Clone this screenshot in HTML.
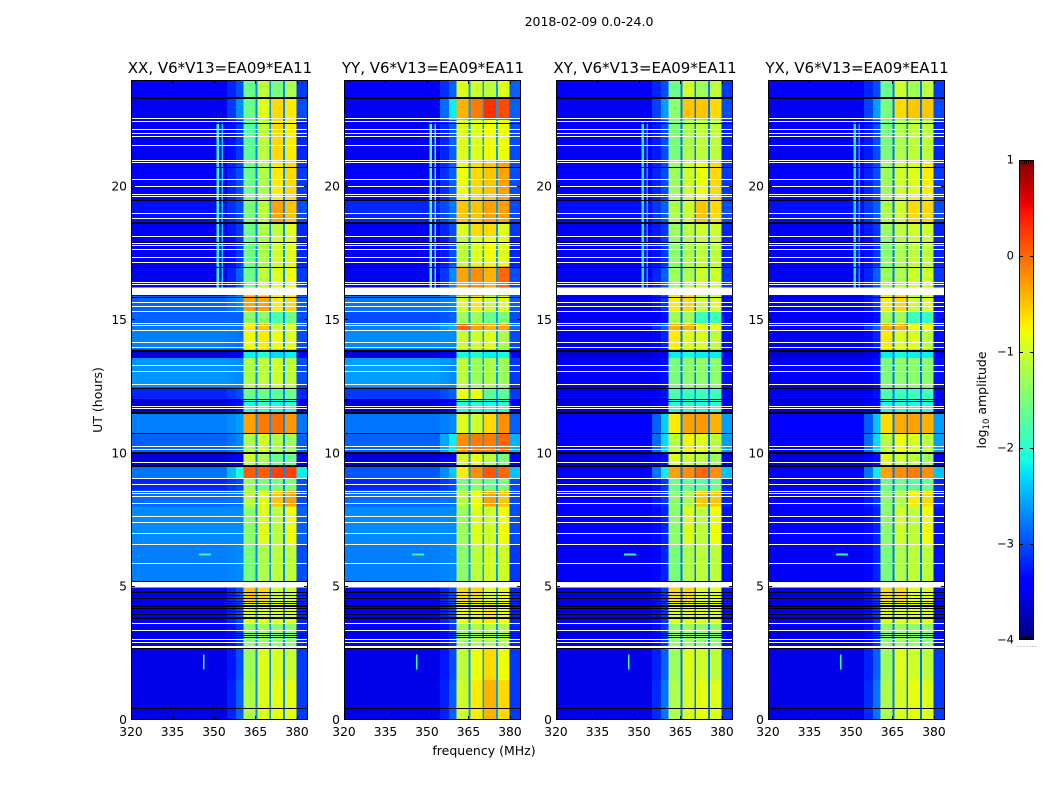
<!DOCTYPE html>
<html lang="en">
<head>
<meta charset="utf-8">
<title>2018-02-09 waterfall amplitude</title>
<style>
html,body{margin:0;padding:0;background:#fff;}
svg{display:block;}
text{font-family:"DejaVu Sans","Liberation Sans",sans-serif;fill:#000;}
</style>
</head>
<body>
<svg id="figure" width="1050" height="800" viewBox="0 0 1050 800" xmlns="http://www.w3.org/2000/svg">
  <rect x="0" y="0" width="1050" height="800" fill="#fff"/>
  <text x="589" y="26" font-size="12.5" text-anchor="middle">2018-02-09 0.0-24.0</text>
  <text transform="translate(102,400) rotate(-90)" font-size="12.5" text-anchor="middle">UT (hours)</text>
  <text x="484" y="755" font-size="12.5" text-anchor="middle">frequency (MHz)</text>
  <text transform="translate(986,400) rotate(-90)" font-size="12.5" text-anchor="middle">log<tspan font-size="8.5" dy="3">10</tspan><tspan dy="-3"> amplitude</tspan></text>
  <g id="panels"></g>
  <g id="colorbar"></g>
</svg>
<script>
// ---- data ----
const panelTitles = ['XX, V6*V13=EA09*EA11', 'YY, V6*V13=EA09*EA11', 'XY, V6*V13=EA09*EA11', 'YX, V6*V13=EA09*EA11'];
const panelNames = ['xx', 'yy', 'xy', 'yx'];
const xTicks = [320, 335, 350, 365, 380];
const yTicks = [0, 5, 10, 15, 20];
const colorbarTicks = [1, 0, -1, -2, -3, -4];

// UT hour boundaries of the rows, top to bottom
const timeEdges = [24, 23.37, 22.5, 21, 19.5, 18.68, 18.15, 17, 15.9, 15.3, 14.88, 14.63, 13.9, 13.57, 12.46, 12, 11.54, 10.75, 10.04, 9.54, 9.06, 8.6, 8, 6.6, 5, 4.4, 3.6, 2.7, 1.5, 0];
// MHz boundaries of the channel groups
const channelEdges = [320, 354.7, 358, 360.6, 365.1, 365.7, 370, 370.6, 375, 375.7, 379.9, 384];

// log10 amplitude per row: background, roll-off, band 1..4, right side
const xxRows = [
[-3.4,-3.0,-1.6,-1.1,-1.5,-1.2,-3.1],[-3.5,-2.7,-1.6,-0.9,-0.6,-0.7,-3.0],[-3.5,-3.1,-1.7,-1.1,-0.6,-0.7,-3.2],
[-3.4,-3.0,-1.6,-1.2,-0.7,-0.6,-3.1],[-3.3,-3.0,-1.5,-1.1,-0.3,-0.5,-3.0],[-3.4,-3.1,-1.6,-1.2,-1.1,-0.9,-3.2],
[-3.5,-3.1,-1.6,-1.2,-1.0,-0.9,-3.2],[-3.5,-2.9,-1.6,-1.1,-0.9,-0.8,-3.1],[-2.9,-2.7,-0.3,-0.3,-0.7,-0.6,-2.9],
[-2.9,-2.9,-1.4,-1.4,-1.8,-1.6,-3.0],[-2.8,-2.8,-0.7,-0.5,-1.0,-0.9,-2.9],[-2.75,-2.8,-0.8,-0.7,-0.8,-0.9,-3.0],
[-3.6,-3.4,-2.2,-2.0,-2.3,-2.2,-3.5],[-2.65,-2.7,-1.2,-1.1,-1.0,-1.1,-3.0],[-3.2,-3.0,-1.6,-1.6,-1.7,-1.6,-3.2],
[-3.6,-3.3,-2.1,-1.9,-2.1,-2.0,-3.4],[-2.75,-2.6,-0.3,-0.1,-0.05,-0.25,-2.8],[-2.9,-2.7,-1.2,-1.0,-1.2,-1.3,-2.9],
[-3.6,-3.4,-1.0,-1.2,-1.6,-1.6,-3.4],[-2.8,-2.1,0.05,0.05,0.2,0.2,-2.2],[-3.2,-3.0,-1.3,-1.5,-1.5,-1.5,-3.0],
[-2.85,-2.8,-1.1,-0.9,-0.5,-0.3,-3.0],[-2.7,-2.7,-1.4,-0.9,-1.1,-0.8,-2.9],[-2.75,-2.7,-1.5,-1.2,-1.1,-1.1,-3.0],
[-3.4,-3.0,-0.5,-0.6,-1.0,-1.0,-3.2],[-3.4,-3.0,-0.9,-0.9,-0.9,-0.9,-3.2],[-3.5,-3.1,-1.4,-1.3,-1.4,-1.4,-3.2],
[-3.55,-3.0,-1.3,-0.9,-0.95,-1.05,-3.1],[-3.55,-2.9,-1.2,-0.9,-0.85,-0.85,-3.1]
];
const yyRows = [
[-3.4,-2.9,-0.9,-1.0,-1.1,-0.9,-2.9],[-3.5,-2.2,-0.4,-0.1,0.3,0.15,-2.9],[-3.5,-2.9,-0.9,-0.9,-0.8,-0.8,-3.0],
[-3.4,-2.9,-0.8,-0.6,-0.5,-0.3,-3.0],[-3.2,-2.8,-0.5,-0.5,-0.3,-0.3,-3.0],[-3.4,-3.0,-0.9,-0.6,-0.6,-0.9,-3.1],
[-3.5,-3.0,-1.1,-0.9,-0.8,-0.9,-3.2],[-3.5,-2.7,-0.3,-0.2,-0.4,0.0,-3.0],[-2.8,-2.7,-0.9,-0.7,-1.0,-0.9,-2.9],
[-3.0,-2.9,-1.3,-1.3,-1.6,-1.5,-3.0],[-2.75,-2.5,0.0,-0.3,-0.4,-0.3,-2.8],[-2.7,-2.7,-1.0,-1.0,-0.9,-1.2,-3.0],
[-3.6,-3.4,-2.1,-2.0,-2.2,-2.1,-3.5],[-2.6,-2.7,-1.1,-1.3,-1.2,-1.3,-3.1],[-3.1,-2.9,-0.8,-0.8,-1.7,-1.7,-3.1],
[-3.6,-3.4,-2.0,-2.0,-2.1,-2.0,-3.4],[-2.8,-2.7,-0.9,-1.0,-0.6,-0.2,-2.9],[-2.9,-2.2,-0.2,-0.1,-0.1,0.0,-2.5],
[-3.6,-3.4,-0.9,-0.8,-1.1,-1.5,-3.4],[-2.95,-2.4,-0.7,-0.2,0.1,0.0,-2.4],[-3.2,-3.0,-1.5,-1.4,-1.6,-1.5,-3.0],
[-2.85,-2.8,-1.1,-0.8,-0.3,-0.5,-3.0],[-2.7,-2.7,-1.3,-0.9,-1.0,-0.8,-3.0],[-2.75,-2.7,-1.4,-1.1,-1.0,-1.0,-3.1],
[-3.4,-3.0,-0.6,-0.6,-0.9,-0.8,-3.2],[-3.4,-3.0,-0.8,-0.8,-0.7,-0.8,-3.2],[-3.5,-3.1,-1.3,-1.2,-1.2,-1.2,-3.2],
[-3.55,-3.0,-1.1,-0.8,-0.6,-0.8,-3.1],[-3.55,-2.9,-1.0,-0.7,-0.4,-0.6,-3.1]
];
const xyRows = [
[-3.4,-3.0,-1.6,-1.0,-1.3,-1.1,-3.1],[-3.5,-2.6,-1.4,-0.5,-0.5,-0.6,-3.0],[-3.5,-3.0,-1.5,-1.2,-1.1,-1.1,-3.2],
[-3.4,-3.0,-1.3,-1.0,-0.8,-0.6,-3.1],[-3.3,-2.9,-1.2,-1.0,-0.5,-0.6,-3.0],[-3.4,-3.1,-1.3,-1.1,-1.0,-1.0,-3.2],
[-3.5,-3.1,-1.4,-1.2,-1.1,-1.1,-3.2],[-3.5,-2.9,-1.3,-1.2,-1.0,-1.0,-3.1],[-3.5,-3.1,-0.7,-0.6,-1.0,-0.9,-3.3],
[-3.5,-3.3,-1.3,-1.3,-1.9,-1.9,-3.3],[-3.4,-2.9,-0.4,-0.4,-0.8,-0.8,-3.2],[-3.5,-3.2,-0.7,-0.9,-0.9,-1.1,-3.3],
[-3.65,-3.5,-2.2,-2.1,-2.2,-2.2,-3.5],[-3.5,-3.3,-1.5,-1.4,-1.4,-1.4,-3.3],[-3.5,-3.3,-1.8,-1.9,-1.9,-1.9,-3.4],
[-3.6,-3.4,-2.1,-2.0,-2.1,-2.0,-3.5],[-3.45,-2.35,-0.7,-0.3,-0.25,-0.4,-2.6],[-3.4,-2.3,-1.1,-0.75,-0.9,-1.1,-2.6],
[-3.6,-3.3,-0.9,-1.0,-1.1,-1.3,-3.4],[-3.4,-2.2,-0.3,-0.2,0.0,-0.2,-2.4],[-3.5,-3.1,-1.6,-1.6,-1.7,-1.6,-3.2],
[-3.4,-3.1,-1.4,-1.2,-0.5,-0.5,-3.2],[-3.45,-3.2,-1.4,-0.9,-1.1,-0.8,-3.3],[-3.5,-3.2,-1.5,-1.2,-1.1,-1.1,-3.3],
[-3.5,-3.1,-0.6,-0.6,-0.9,-0.9,-3.3],[-3.5,-3.1,-0.9,-0.9,-0.9,-0.9,-3.3],[-3.55,-3.1,-1.4,-1.3,-1.4,-1.4,-3.3],
[-3.55,-2.9,-1.3,-0.9,-1.0,-1.1,-3.1],[-3.55,-2.8,-1.2,-0.95,-0.85,-0.9,-3.1]
];
const yxRows = [
[-3.4,-3.0,-1.6,-1.0,-1.3,-1.1,-3.1],[-3.5,-2.6,-1.5,-0.6,-0.5,-0.5,-3.0],[-3.5,-3.0,-1.5,-1.2,-1.1,-1.1,-3.2],
[-3.4,-3.0,-1.3,-1.0,-0.9,-0.7,-3.1],[-3.3,-2.9,-1.2,-1.0,-0.6,-0.6,-3.0],[-3.4,-3.1,-1.3,-1.1,-1.0,-1.0,-3.2],
[-3.5,-3.1,-1.4,-1.2,-1.1,-1.1,-3.2],[-3.5,-2.9,-1.3,-1.2,-1.0,-1.0,-3.1],[-3.5,-3.1,-0.7,-0.6,-1.0,-0.9,-3.3],
[-3.5,-3.3,-1.3,-1.3,-1.9,-1.9,-3.3],[-3.4,-2.9,-0.4,-0.4,-0.8,-0.8,-3.2],[-3.5,-3.2,-0.7,-0.9,-0.9,-1.1,-3.3],
[-3.65,-3.5,-2.2,-2.1,-2.2,-2.2,-3.5],[-3.5,-3.3,-1.5,-1.4,-1.4,-1.4,-3.3],[-3.5,-3.3,-1.8,-1.9,-1.9,-1.9,-3.4],
[-3.6,-3.4,-2.1,-2.0,-2.1,-2.0,-3.5],[-3.45,-2.4,-0.6,-0.35,-0.3,-0.4,-2.6],[-3.4,-2.3,-1.1,-0.8,-0.95,-1.1,-2.6],
[-3.6,-3.3,-0.9,-1.0,-1.1,-1.3,-3.4],[-3.4,-2.2,-0.3,-0.2,-0.1,-0.2,-2.4],[-3.5,-3.1,-1.6,-1.6,-1.7,-1.6,-3.2],
[-3.4,-3.1,-1.4,-1.2,-0.7,-0.6,-3.2],[-3.45,-3.2,-1.4,-1.0,-1.1,-0.8,-3.3],[-3.5,-3.2,-1.5,-1.2,-1.1,-1.1,-3.3],
[-3.5,-3.1,-0.6,-0.6,-0.9,-0.9,-3.3],[-3.5,-3.1,-0.9,-0.9,-0.9,-0.9,-3.3],[-3.55,-3.1,-1.4,-1.3,-1.4,-1.4,-3.3],
[-3.55,-2.9,-1.3,-0.9,-1.0,-1.1,-3.1],[-3.55,-2.8,-1.2,-0.95,-0.85,-0.9,-3.1]
];
const panelRows = [xxRows, yyRows, xyRows, yxRows];
const gapLevels = [-2.7, -2.6, -2.8, -2.8];

// narrow interference: column [startMHz, endMHz, topHour, bottomHour], level per panel
const rfiColumns = [[351, 351.8, 22.4, 16], [352.8, 353.2, 22.4, 16]];
const rfiLevels = [[-2.0, -2.4], [-1.8, -2.0], [-2.2, -2.5], [-2.2, -2.5]];
// short spikes: [startMHz, endMHz, topHour, bottomHour, level]
const spikes = [[346, 346.5, 2.45, 1.9, -1.9], [344.5, 349, 6.24, 6.17, -2.1], [345.6, 346.4, 6.24, 6.17, -0.4]];

// flagged integrations (hours)
const whiteBlocks = [[16.21, 15.93], [5.19, 4.96]];
const whiteLineHours = [22.56,22.47,22.15,22.0,21.9,21.55,21.0,20.94,20.28,20.01,19.73,19.66,19.0,18.81,18.15,17.88,17.8,17.65,17.37,17.19,16.44,16.35,15.66,15.54,15.34,14.88,14.81,14.63,14.16,13.98,13.3,13.09,12.59,11.79,11.69,10.29,10.16,9.66,9.06,8.86,8.59,8.52,8.41,8.13,7.65,7.41,7.0,6.59,5.88,3.65,3.38,3.03,2.91,2.79,2.75];
const blackLineHours = [23.37,23.33,22.4,20.73,19.5,18.68,18.64,17.93,16.98,15.85,13.88,13.84,12.46,12.02,11.98,11.56,11.52,10.75,10.06,10.02,9.56,9.52,5.22,4.81,4.69,4.57,4.47,4.37,4.33,4.29,4.19,4.09,3.97,3.87,3.81,3.25,3.19,3.12,2.71,0.44];

// ---- axes ----
const panelLefts = [131, 344, 556, 768];
const plotWidth = 177, plotTop = 80, plotBottom = 720;
const freqMin = 320, freqMax = 384, hourMax = 24;
const cbLeft = 1019, cbWidth = 15, cbTop = 160, cbBottom = 640, cbMax = 1, cbMin = -4;
const xScale = (left, f) => left + (f - freqMin) / (freqMax - freqMin) * plotWidth;
const yScale = h => plotBottom - h / hourMax * (plotBottom - plotTop);
const cbScale = v => cbTop + (cbMax - v) / (cbMax - cbMin) * (cbBottom - cbTop);

function ramp(t, pts) {
  for (let i = 1; i < pts.length; i++) {
    if (t <= pts[i][0]) {
      const a = pts[i - 1], b = pts[i];
      return a[1] + (b[1] - a[1]) * (t - a[0]) / (b[0] - a[0]);
    }
  }
  return pts[pts.length - 1][1];
}
function jet(v) {
  const t = Math.max(0, Math.min(1, (v - cbMin) / (cbMax - cbMin)));
  const r = ramp(t, [[0, 0], [0.35, 0], [0.66, 1], [0.89, 1], [1, 0.5]]);
  const g = ramp(t, [[0, 0], [0.125, 0], [0.375, 1], [0.64, 1], [0.91, 0], [1, 0]]);
  const b = ramp(t, [[0, 0.5], [0.11, 1], [0.34, 1], [0.65, 0], [1, 0]]);
  return 'rgb(' + Math.round(r * 255) + ',' + Math.round(g * 255) + ',' + Math.round(b * 255) + ')';
}

const NS = 'http://www.w3.org/2000/svg';
function make(parent, tag, attrs) {
  const el = document.createElementNS(NS, tag);
  for (const k in attrs) el.setAttribute(k, attrs[k]);
  parent.appendChild(el);
  return el;
}

function drawPanel(p) {
  const left = panelLefts[p], right = left + plotWidth, rows = panelRows[p];
  const root = document.getElementById('panels');
  const g = make(root, 'g', {});
  
  
  const heat = make(g, 'g', { 'shape-rendering': 'crispEdges' });
  
  

  rows.forEach((row, r) => {
    const bg = row[0], edge = row[1], right0 = row[6], gap = gapLevels[p];
    const levels = [bg, (bg + edge) / 2, edge, row[2], gap, row[3], gap, row[4], gap, row[5], right0];
    levels.forEach((lv, c) => {
      const x0 = xScale(left, channelEdges[c]), x1 = xScale(left, channelEdges[c + 1]);
      const y0 = yScale(timeEdges[r]), y1 = yScale(timeEdges[r + 1]);
      const cell = make(heat, 'rect', { x: x0, y: y0, width: x1 - x0, height: y1 - y0, fill: jet(lv) });
      
      
    });
  });

  rfiColumns.forEach((col, i) => {
    const x0 = xScale(left, col[0]), x1 = xScale(left, col[1]);
    const el = make(heat, 'rect', { x: x0, y: yScale(col[2]), width: Math.max(1, x1 - x0), height: yScale(col[3]) - yScale(col[2]), fill: jet(rfiLevels[p][i]) });
    
    
  });
  spikes.forEach(s => {
    const x0 = xScale(left, s[0]), x1 = xScale(left, s[1]);
    const el = make(heat, 'rect', { x: x0, y: yScale(s[2]), width: Math.max(1, x1 - x0), height: Math.max(1, yScale(s[3]) - yScale(s[2])), fill: jet(s[4]) });
    
    
  });
  whiteBlocks.forEach(b => {
    const el = make(heat, 'rect', { x: left, y: yScale(b[0]), width: plotWidth, height: yScale(b[1]) - yScale(b[0]), fill: '#fff' });
    
    
  });
  whiteLineHours.forEach(h => {
    const el = make(heat, 'rect', { x: left, y: Math.round(yScale(h)), width: plotWidth, height: 1, fill: '#fff' });
    
    
  });
  blackLineHours.forEach(h => {
    const el = make(heat, 'rect', { x: left, y: Math.round(yScale(h)), width: plotWidth, height: 1, fill: '#000' });
    
    
  });

  const frame = make(g, 'rect', { x: left + 0.5, y: plotTop + 0.5, width: plotWidth - 1, height: plotBottom - plotTop - 1, fill: 'none', stroke: '#000', 'stroke-width': 1, 'shape-rendering': 'crispEdges' });
  
  

  const title = make(g, 'text', { x: left + plotWidth / 2 + 0.5, y: 73, 'font-size': 15, 'text-anchor': 'middle' });
  title.textContent = panelTitles[p];
  
  

  xTicks.forEach(f => {
    const x = Math.round(xScale(left, f)) + 0.5;
    const t = make(g, 'path', { d: 'M' + x + ' ' + plotBottom + 'v-4M' + x + ' ' + plotTop + 'v4', stroke: '#000', fill: 'none' });
    
    
    const l = make(g, 'text', { x: xScale(left, f), y: 736, 'font-size': 12.3, 'text-anchor': 'middle' });
    l.textContent = f;
    
    
  });
  yTicks.forEach(h => {
    const y = Math.round(yScale(h)) - 0.5;
    const t = make(g, 'path', { d: 'M' + left + ' ' + y + 'h4M' + right + ' ' + y + 'h-4', stroke: '#000', fill: 'none' });
    
    
    const l = make(g, 'text', { x: left - 4, y: yScale(h) + 4, 'font-size': 12.3, 'text-anchor': 'end' });
    l.textContent = h;
    
    
  });
}

function drawColorbar() {
  const g = document.getElementById('colorbar');
  for (let py = cbTop; py < cbBottom; py++) {
    const v = cbMax - (py + 0.5 - cbTop) / (cbBottom - cbTop) * (cbMax - cbMin);
    const s = make(g, 'rect', { x: cbLeft, y: py, width: cbWidth, height: 1, fill: jet(v), 'shape-rendering': 'crispEdges' });
    
    
  }
  const frame = make(g, 'rect', { x: cbLeft + 0.5, y: cbTop + 0.5, width: cbWidth - 1, height: cbBottom - cbTop - 1, fill: 'none', stroke: '#000', 'shape-rendering': 'crispEdges' });
  
  
  colorbarTicks.forEach(v => {
    const y = Math.min(cbBottom - 0.5, Math.round(cbScale(v)) + 0.5);
    const t = make(g, 'path', { d: 'M' + cbLeft + ' ' + y + 'h4M' + (cbLeft + cbWidth) + ' ' + y + 'h-4', stroke: '#000', fill: 'none', 'shape-rendering': 'crispEdges' });
    
    
    const l = make(g, 'text', { x: cbLeft - 5, y: cbScale(v) + 3.5, 'font-size': 11.5, 'text-anchor': 'end' });
    l.textContent = v < 0 ? '\u2212' + Math.abs(v) : String(v);
    
    
  });
  for (let i = 0; i < 5; i++) {
    const x = cbLeft + 3.5 + i * 2;
    const top = make(g, 'path', { d: 'M' + x + ' ' + cbTop + 'v4M' + x + ' ' + cbBottom + 'v-4', stroke: '#000', 'stroke-width': 0.8, fill: 'none' });
    
    
  }
  for (let i = 0; i < 7; i++) {
    const d = make(g, 'rect', { x: 1017.5 + i * 3, y: 646, width: 1, height: 1, fill: '#999' });
    
    
  }
}

panelTitles.forEach((_, p) => drawPanel(p));
drawColorbar();
</script>
</body>
</html>
